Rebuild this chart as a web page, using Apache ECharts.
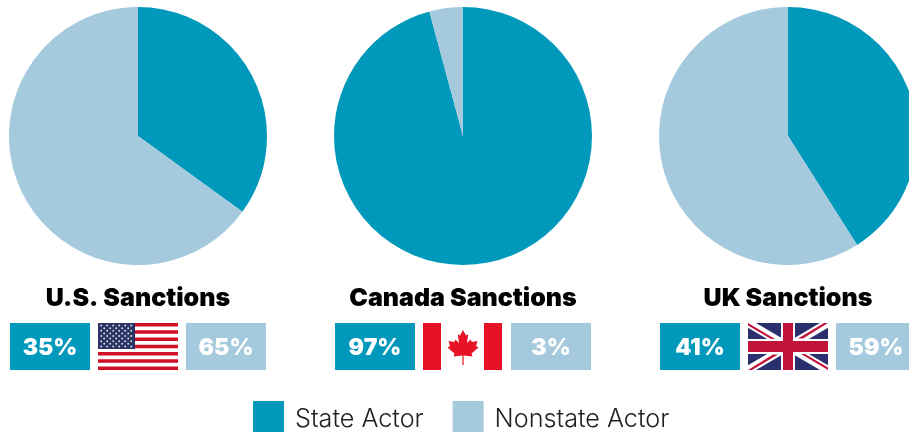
<!DOCTYPE html>
<html>

<head>
  <meta charset="UTF-8">
  <title>Sanctions by actor</title>
  <script src="https://cdn.jsdelivr.net/npm/echarts@6/dist/echarts.min.js"></script>
</head>

<body style="margin: 0; background-color: #fff;">
  <div id="main" style="width: 909px; height: 437px;"></div>
  <script type="text/javascript">
    // shares as printed on the tiles
    const titles = ['U.S. Sanctions', 'Canada Sanctions', 'UK Sanctions'];
    const stateLabels = ['35%', '97%', '41%'];
    const nonstateLabels = ['65%', '3%', '59%'];
    // shares as the wedges are actually drawn (Canada's wedge is wider than its label)
    const stateValues = [35, 95.8, 41];
    const nonstateValues = [65, 4.2, 59];
    const seriesNames = ['State Actor', 'Nonstate Actor'];

    const STATE = '#0099BC';
    const NONSTATE = '#A5CADD';
    const FONT = 'Inter';
    const centers = [138, 463, 788];
    const flagTop = 323, flagH = 47;

    var myChart = echarts.init(document.getElementById('main'), null, { renderer: 'canvas' });

    function box(x, y, w, h, fill) {
      return { type: 'rect', silent: true, shape: { x, y, width: w, height: h }, style: { fill } };
    }
    function poly(points, fill) {
      return { type: 'polygon', silent: true, shape: { points }, style: { fill } };
    }

    function usFlag(x) {
      const out = [box(x, flagTop, 80, flagH, '#fff')];
      for (let i = 0; i < 13; i += 2) {
        out.push(box(x, flagTop + i * flagH / 13, 80, flagH / 13, '#CE1126'));
      }
      out.push(box(x, flagTop, 37, 26, '#2A3363'));
      for (let r = 0; r < 9; r++) {
        const n = r % 2 ? 5 : 6;
        for (let c = 0; c < n; c++) {
          out.push({
            type: 'circle', silent: true,
            shape: { cx: x + (r % 2 ? 6.2 : 3.2) + c * 6, cy: flagTop + 2.6 + r * 2.6, r: 1 },
            style: { fill: '#D5D9E6' }
          });
        }
      }
      return out;
    }

    function canadaFlag(x) {
      const cx = x + 40, top = 330;
      const half = [[0, 0], [3, 5.5], [5.2, 4.2], [4, 13], [7.5, 9.5], [8.8, 12], [14.5, 11], [13, 16],
        [15.5, 17.5], [8.5, 23.5], [9.5, 26.5], [0.6, 25.5]];
      const pts = half.map(p => [cx + p[0], top + p[1]]);
      pts.push([cx + 0.6, top + 35], [cx - 0.6, top + 35]);
      half.slice().reverse().forEach(p => { if (p[0] !== 0) pts.push([cx - p[0], top + p[1]]); });
      return [
        box(x, flagTop, 18, flagH, '#E81226'),
        box(x + 61, flagTop, 18, flagH, '#E81226'),
        poly(pts, '#E81226')
      ];
    }

    function ukFlag(x) {
      const y = flagTop, w = 80, h = flagH, r = x + w, b = y + h;
      const red = '#C2133A';
      return [
        box(x, y, w, h, '#2A2F6E'),
        poly([[x, y], [x + 8, y], [r, b - 4.7], [r, b], [r - 8, b], [x, y + 4.7]], '#fff'),
        poly([[r, y], [r - 8, y], [x, b - 4.7], [x, b], [x + 8, b], [r, y + 4.7]], '#fff'),
        poly([[x, y], [x + 27, y + 16], [x + 23, y + 16], [x, y + 2.6]], red),
        poly([[r, b], [r - 27, b - 16], [r - 23, b - 16], [r, b - 2.6]], red),
        poly([[r, y], [r - 4, y], [r - 30, y + 15.5], [r - 25, y + 15.5]], red),
        poly([[x, b], [x + 4, b], [x + 30, b - 15.5], [x + 25, b - 15.5]], red),
        box(x + 33, y, 14, h, '#fff'),
        box(x, y + 16, w, 15, '#fff'),
        box(x + 35, y, 10, h, red),
        box(x, y + 18, w, 11, red)
      ];
    }

    function tile(x, label, fill) {
      return {
        type: 'rect', silent: true,
        shape: { x, y: flagTop, width: 80, height: flagH },
        style: { fill },
        textContent: {
          silent: true,
          style: { text: label, fill: '#fff', font: '900 23px ' + FONT }
        },
        textConfig: { position: 'inside', offset: [0, 2] }
      };
    }

    const graphics = [];
    centers.forEach((c, i) => {
      graphics.push(tile(c - 128, stateLabels[i], STATE));
      graphics.push(tile(c + 48, nonstateLabels[i], NONSTATE));
    });
    graphics.push(...usFlag(98), ...canadaFlag(423), ...ukFlag(748));

    var option = {
      animation: false,
      backgroundColor: '#fff',
      color: [STATE, NONSTATE],
      title: titles.map((t, i) => ({
        text: t,
        left: centers[i],
        top: 286,
        padding: 0,
        textAlign: 'center',
        textStyle: { fontFamily: FONT, fontSize: 25, fontWeight: 900, color: '#000' }
      })),
      legend: {
        left: 253,
        top: 401,
        padding: 0,
        itemWidth: 31,
        itemHeight: 31,
        itemGap: 29,
        icon: 'rect',
        selectedMode: false,
        data: seriesNames,
        formatter: '{t|{name}}',
        textStyle: {
          rich: {
            t: { fontFamily: FONT, fontSize: 25.2, fontWeight: 300, color: '#222', padding: [6, 0, 0, 6] }
          }
        }
      },
      series: centers.map((c, i) => ({
        type: 'pie',
        center: [c, 136],
        radius: [0, 129],
        startAngle: 90,
        clockwise: true,
        silent: true,
        label: { show: false },
        labelLine: { show: false },
        data: [
          { name: seriesNames[0], value: stateValues[i] },
          { name: seriesNames[1], value: nonstateValues[i] }
        ]
      })),
      graphic: graphics
    };

    myChart.setOption(option);
  </script>
</body>

</html>
